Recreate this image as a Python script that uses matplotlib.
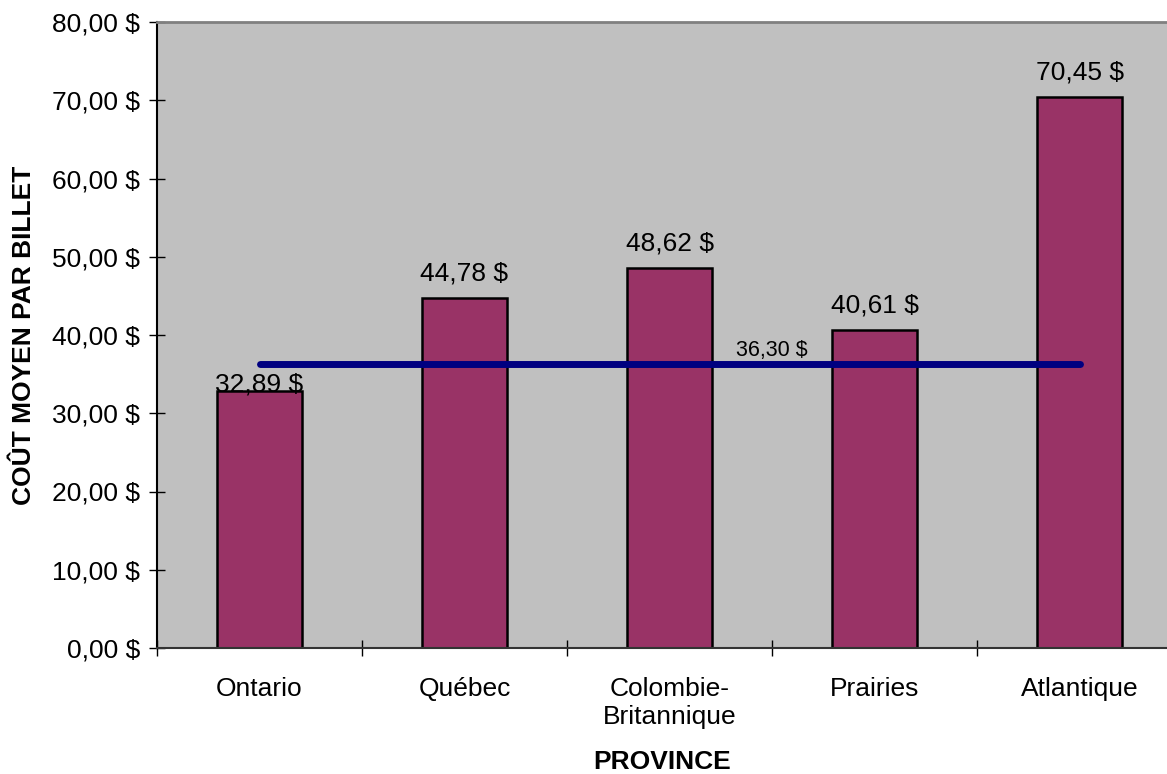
import matplotlib.pyplot as plt

plt.rcParams['font.family'] = ['Liberation Sans', 'DejaVu Sans']

provinces = ['Ontario', 'Québec', 'Colombie-\nBritannique', 'Prairies', 'Atlantique']
cout = [32.89, 44.78, 48.62, 40.61, 70.45]
moyenne = 36.30


def fmt(v):
    return ('%.2f $' % v).replace('.', ',')


fig = plt.figure(figsize=(11.67, 7.74), dpi=100)
ax = fig.add_axes([157/1167, 1 - 648/774, 1 - 157/1167, (648 - 22)/774])
ax.set_facecolor('#C0C0C0')

x = list(range(len(provinces)))
ax.bar(x, cout, width=0.41, color='#993366', edgecolor='black', linewidth=1.8, zorder=2)

# average line from first to last province
ax.plot([x[0], x[-1]], [moyenne, moyenne], color='#000080', linewidth=5,
        solid_capstyle='round', zorder=3)
ax.annotate(fmt(moyenne), (2.5, moyenne), xytext=(0, 2), textcoords='offset points',
            ha='center', va='bottom', fontsize=15.5, zorder=4)

# value labels above the bars
for i, v in enumerate(cout):
    dy = -4 if i == 0 else 9
    ax.annotate(fmt(v), (x[i], v), xytext=(0, dy), textcoords='offset points',
                ha='center', va='bottom', fontsize=19, zorder=4)

ax.set_yticks(range(0, 81, 10))
ax.set_yticklabels([fmt(v) for v in range(0, 81, 10)], fontsize=19)
# separators between categories on major ticks, names on minor ticks
ax.set_xticks([i - 0.5 for i in range(len(provinces))])
ax.set_xticklabels([])
ax.set_xticks(x, minor=True)
ax.set_xticklabels(provinces, minor=True, fontsize=19)
ax.set_xlim(-0.5, -0.5 + 1010/205)
ax.set_ylim(0, 80)
ax.tick_params(axis='x', which='major', direction='inout', length=12, width=1)
ax.tick_params(axis='x', which='minor', length=0, pad=21)
ax.tick_params(axis='y', direction='inout', length=12, width=1, pad=6)

ax.spines['top'].set_color('#808080')
ax.spines['top'].set_linewidth(2)
ax.spines['right'].set_visible(False)
ax.spines['left'].set_color('black')
ax.spines['left'].set_linewidth(1.5)
ax.spines['bottom'].set_color('#333333')
ax.spines['bottom'].set_linewidth(1.5)

ax.set_xlabel('PROVINCE', fontsize=19, fontweight='bold', labelpad=15)
ax.set_ylabel('COÛT MOYEN PAR BILLET', fontsize=19, fontweight='bold', labelpad=12)

fig.savefig('out.png', dpi=100)
